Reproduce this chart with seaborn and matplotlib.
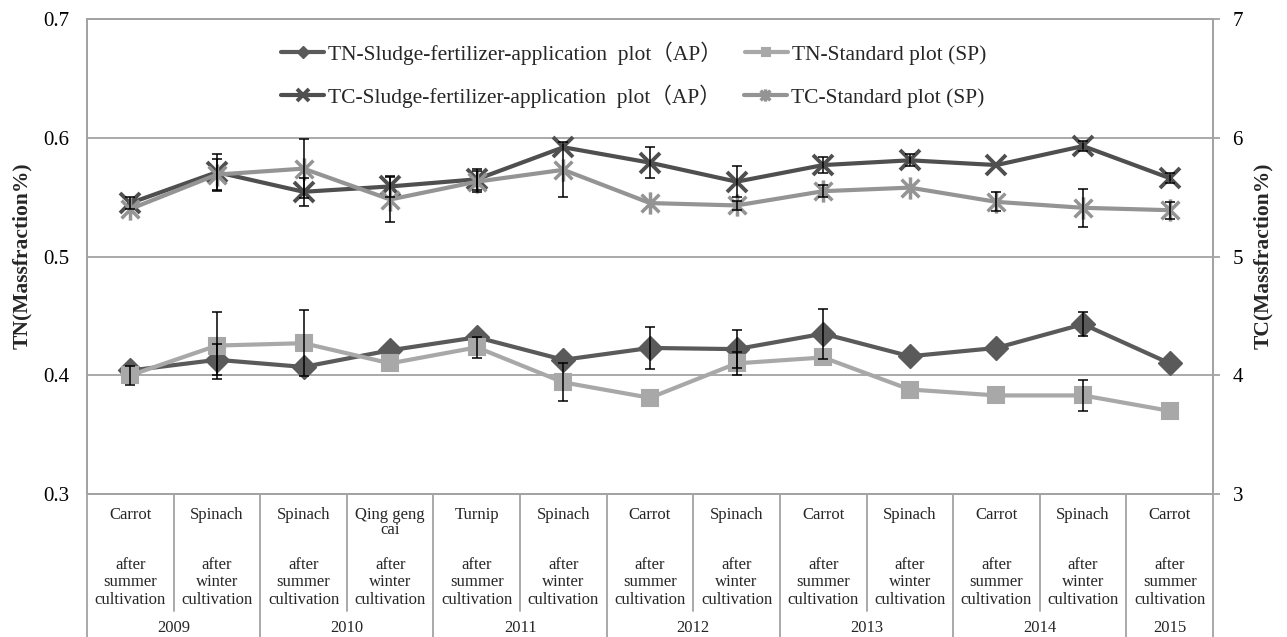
import numpy as np
import pandas as pd
import matplotlib
matplotlib.use("Agg")
import matplotlib.pyplot as plt
from matplotlib.path import Path
from matplotlib.legend import Legend
import seaborn as sns

# ---------------- data ----------------
crops = ["Carrot", "Spinach", "Spinach", "Qing geng\ncai", "Turnip", "Spinach", "Carrot",
         "Spinach", "Carrot", "Spinach", "Carrot", "Spinach", "Carrot"]
seasons = ["after\nsummer\ncultivation", "after\nwinter\ncultivation"] * 6 + ["after\nsummer\ncultivation"]
years = ["2009", "2010", "2011", "2012", "2013", "2014", "2015"]
year_spans = [2, 2, 2, 2, 2, 2, 1]

tn_ap = [0.404, 0.413, 0.407, 0.421, 0.432, 0.413, 0.423, 0.422, 0.435, 0.416, 0.423, 0.443, 0.410]
tn_ap_err = [0.0, 0.013, 0.0, 0.0, 0.0, 0.0, 0.0175, 0.016, 0.021, 0.0, 0.0, 0.010, 0.0]
tn_sp = [0.400, 0.425, 0.427, 0.410, 0.4235, 0.394, 0.381, 0.410, 0.415, 0.388, 0.383, 0.383, 0.370]
tn_sp_err = [0.008, 0.028, 0.028, 0.0, 0.009, 0.016, 0.0, 0.010, 0.0, 0.0, 0.0, 0.013, 0.0]
tc_ap = [5.45, 5.71, 5.545, 5.59, 5.65, 5.92, 5.79, 5.63, 5.77, 5.81, 5.77, 5.93, 5.66]
tc_ap_err = [0.05, 0.155, 0.12, 0.09, 0.09, 0.0, 0.13, 0.13, 0.07, 0.05, 0.0, 0.04, 0.04]
tc_sp = [5.40, 5.69, 5.74, 5.48, 5.63, 5.73, 5.45, 5.43, 5.55, 5.58, 5.46, 5.41, 5.39]
tc_sp_err = [0.0, 0.13, 0.25, 0.19, 0.09, 0.23, 0.0, 0.04, 0.05, 0.0, 0.08, 0.16, 0.07]

labels = ["TN-Sludge-fertilizer-application  plot（AP）", "TN-Standard plot (SP)",
          "TC-Sludge-fertilizer-application  plot（AP）", "TC-Standard plot (SP)"]

# ---------------- style ----------------
sns.set_theme(style="white")
plt.rcParams["font.family"] = ["Liberation Serif", "Noto Sans CJK SC", "DejaVu Sans"]
plt.rcParams["axes.unicode_minus"] = False

W, H = 1287, 637
fig = plt.figure(figsize=(W / 100, H / 100), dpi=100)
L, R, T, B = 87, 1213, 19, 494
ax = fig.add_axes([L / W, 1 - B / H, (R - L) / W, (B - T) / H])
ax2 = ax.twinx()

x = np.arange(len(crops))
df = pd.DataFrame({"x": x, "tn_ap": tn_ap, "tn_sp": tn_sp, "tc_ap": tc_ap, "tc_sp": tc_sp})

c_tn_ap = "#5a5a5a"
c_tn_sp = "#a8a8a8"
c_tc_ap = "#4f4f4f"
c_tc_sp = "#949494"
grid_c = "#a3a3a3"

aster = Path([(-1, -1), (1, 1), (-1, 1), (1, -1), (0, -1.25), (0, 1.25)],
             [Path.MOVETO, Path.LINETO, Path.MOVETO, Path.LINETO, Path.MOVETO, Path.LINETO])


def errbars(a, yv, ev):
    yv = np.asarray(yv)
    ev = np.asarray(ev)
    m = ev > 0
    a.errorbar(x[m], yv[m], yerr=ev[m], fmt="none", ecolor="black", elinewidth=1.1,
               capsize=3.6, capthick=1.1, zorder=6)


sns.lineplot(data=df, x="x", y="tn_ap", ax=ax, color=c_tn_ap, lw=3, marker="D", markersize=12,
             markeredgecolor=c_tn_ap, markeredgewidth=1, label=labels[0], zorder=4)
sns.lineplot(data=df, x="x", y="tn_sp", ax=ax, color=c_tn_sp, lw=3, marker="s", markersize=11,
             markeredgecolor=c_tn_sp, markeredgewidth=1.5, label=labels[1], zorder=5)
errbars(ax, tn_ap, tn_ap_err)
errbars(ax, tn_sp, tn_sp_err)

sns.lineplot(data=df, x="x", y="tc_ap", ax=ax2, color=c_tc_ap, lw=3, marker="x", markersize=15,
             markeredgecolor=c_tc_ap, markeredgewidth=2.8, label=labels[2], zorder=4)
sns.lineplot(data=df, x="x", y="tc_sp", ax=ax2, color=c_tc_sp, lw=3, marker=aster, markersize=16,
             markeredgecolor=c_tc_sp, markeredgewidth=2.5, label=labels[3], zorder=5)
errbars(ax2, tc_ap, tc_ap_err)
errbars(ax2, tc_sp, tc_sp_err)

# ---------------- axes ----------------
for a in (ax, ax2):
    a.set_xlim(-0.5, len(crops) - 0.5)
    a.set_xticks([])
    a.set_xlabel("")
    for s in a.spines.values():
        s.set_color(grid_c)
        s.set_linewidth(1.3)
    if a.get_legend() is not None:
        a.get_legend().remove()

ax.set_ylim(0.3, 0.7)
ax.set_yticks([0.3, 0.4, 0.5, 0.6, 0.7])
ax.set_yticklabels(["0.3", "0.4", "0.5", "0.6", "0.7"])
ax.tick_params(axis="y", length=0, pad=13, labelsize=15, labelcolor="black")
ax.yaxis.grid(True, color=grid_c, lw=1.3)
ax.set_axisbelow(True)

ax2.set_ylim(3, 7)
ax2.set_yticks([3, 4, 5, 6, 7])
ax2.set_yticklabels(["3", "4", "5", "6", "7"])
ax2.tick_params(axis="y", length=5, width=1.3, color=grid_c, direction="out", pad=9,
                labelsize=15, labelcolor="black")

ax.set_ylabel("")
ax2.set_ylabel("")
fig.text(22 / W, 1 - 256 / H, "TN(Massfraction%)", rotation=90, ha="center", va="center",
         fontsize=15.5, fontweight="bold")
fig.text(1263 / W, 1 - 256 / H, "TC(Massfraction%)", rotation=90, ha="center", va="center",
         fontsize=15.5, fontweight="bold")

# ---------------- category table ----------------
trans = ax.get_xaxis_transform()
hh = B - T


def yf(py):
    return (B - py) / hh


line_step = 17.5
for i in range(len(crops)):
    for j, ln in enumerate(crops[i].split("\n")):
        ax.text(x[i], yf(515 + j * 15.5), ln, transform=trans, ha="center", va="center",
                fontsize=12, clip_on=False)
    for j, ln in enumerate(seasons[i].split("\n")):
        ax.text(x[i], yf(565 + j * line_step), ln, transform=trans, ha="center", va="center",
                fontsize=12, clip_on=False)

start = 0
for yr, span in zip(years, year_spans):
    cx = start + (span - 1) / 2
    ax.text(cx, yf(628), yr, transform=trans, ha="center", va="center", fontsize=12, clip_on=False)
    start += span

bounds_year = np.cumsum(year_spans)[:-1] - 0.5
for b in np.arange(0.5, len(crops) - 1, 1.0):
    bottom = yf(H) if b in bounds_year else yf(611)
    ax.plot([b, b], [0, bottom], transform=trans, color=grid_c, lw=1.3, clip_on=False)
for b in (-0.5, len(crops) - 0.5):
    ax.plot([b, b], [0, yf(H)], transform=trans, color=grid_c, lw=1.3, clip_on=False)

# ---------------- legend (one row per legend so rows stay aligned) ----------------
h1, l1 = ax.get_legend_handles_labels()
h2, l2 = ax2.get_legend_handles_labels()
hd = dict(zip(l1 + l2, h1 + h2))
common = dict(ncol=2, loc="center left", bbox_transform=fig.transFigure, frameon=False,
              fontsize=15.5, handlelength=2.0, handletextpad=0.2, columnspacing=1.05,
              borderpad=0, borderaxespad=0, markerscale=0.55)
leg1 = Legend(ax2, [hd[labels[0]], hd[labels[1]]], [labels[0], labels[1]],
              bbox_to_anchor=(281 / W, 1 - 53 / H), **common)
leg2 = Legend(ax2, [hd[labels[2]], hd[labels[3]]], [labels[2], labels[3]],
              bbox_to_anchor=(281 / W, 1 - 96 / H), **common)
ax2.add_artist(leg1)
ax2.add_artist(leg2)

fig.savefig("out.png", dpi=100)
